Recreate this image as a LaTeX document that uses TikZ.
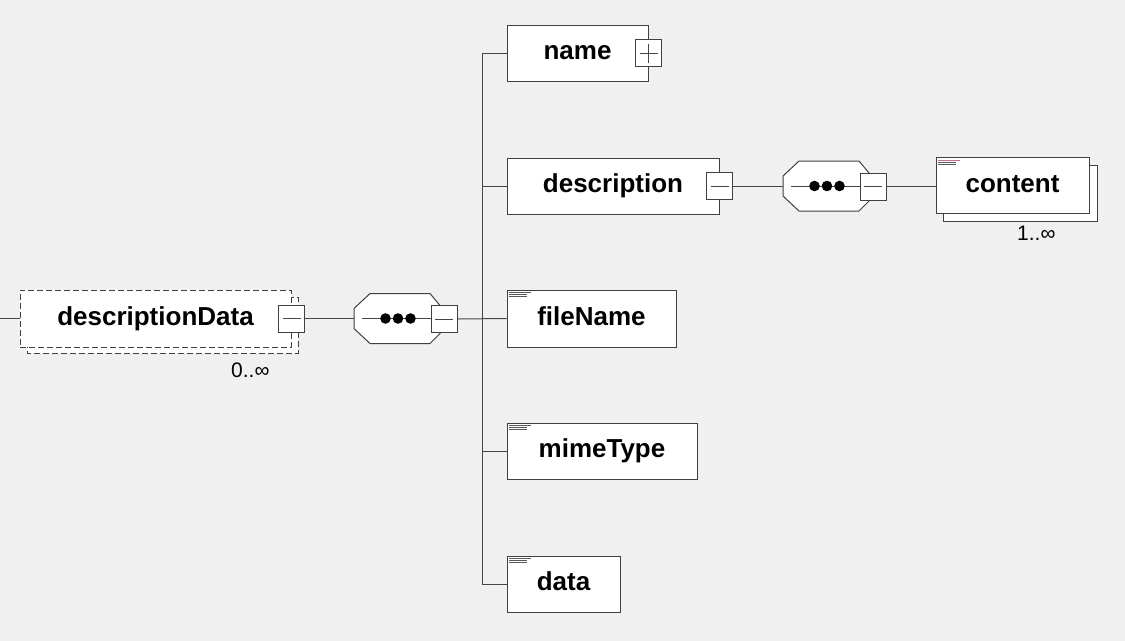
\documentclass[tikz,border=0pt]{standalone}
\usepackage{fontspec}
\setmainfont{Liberation Sans}
\newcommand\myelemfont{\bfseries\fontsize{26}{30}\selectfont}
\newcommand\mycardfont{\fontsize{21}{24}\selectfont}
\definecolor{bgc}{RGB}{240,240,240}
\definecolor{edge}{RGB}{64,64,64}
\definecolor{lnc}{RGB}{70,70,70}
\definecolor{iconc}{RGB}{90,90,90}
\definecolor{iconred}{RGB}{200,110,130}
\tikzset{
  ln/.style={draw=lnc, line width=1pt},
  elem/.style={draw=edge, fill=white, line width=1pt, font=\myelemfont, inner sep=0pt,
    text height=18.5pt, text depth=5.5pt},
  backbox/.style={draw=edge, fill=white, line width=1pt},
  dashbox/.style={dash pattern=on 6pt off 3pt},
  togbox/.style={draw=edge, fill=white, line width=1pt, minimum width=26pt, minimum height=27pt, inner sep=0pt},
  minusbox/.style={togbox, path picture={
    \draw[lnc, line width=0.9pt] ([xshift=4pt]path picture bounding box.west) -- ([xshift=-4pt]path picture bounding box.east);}},
  plusbox/.style={togbox, path picture={
    \draw[lnc, line width=0.9pt] ([xshift=4pt]path picture bounding box.west) -- ([xshift=-4pt]path picture bounding box.east);
    \draw[lnc, line width=0.9pt] ([yshift=-4pt]path picture bounding box.north) -- ([yshift=4pt]path picture bounding box.south);}},
  card/.style={font=\mycardfont, inner sep=0pt, anchor=base west},
  seqcomp/.pic={
    \draw[draw=edge, fill=white, line width=1pt]
      (16,-25) -- (76,-25) -- (86,-13) -- (86,15) -- (76,25) -- (16,25) -- (0,10) -- (0,-10) -- cycle;
    \coordinate (-in) at (0,0);
    \draw[ln] (8,0) -- (78,0);
    \fill[black] (31.5,0) circle (5.3pt) (44,0) circle (5.3pt) (56.5,0) circle (5.3pt);
    \node[minusbox] (-m) at (90,0.5) {};
  }
}
\begin{document}
\begin{tikzpicture}[x=1pt,y=-1pt]
\fill[bgc] (0,0) rectangle (1125,641);
\useasboundingbox (0,0) rectangle (1125,641);

% root element
\coordinate (start) at (0,318.5);
\draw[backbox, dashbox] (27,297) rectangle (298,353);
\node[elem, dashbox, minimum width=271pt, minimum height=57pt] (dd) at (155.5,318.5) {descriptionData};
\node[minusbox] (ddm) at (dd.east) {};
\node[card] (card1) at (231,377) {0..∞};

% compositors
\pic (c1) at (354,318.5) {seqcomp};
\pic (c2) at (783,186) {seqcomp};

% children
\node[elem, minimum width=141pt, minimum height=56pt] (name) at (577.5,53) {name};
\node[plusbox] (namep) at (name.east) {};
\node[elem, minimum width=212pt, minimum height=56pt] (description) at (613,186) {description};
\node[minusbox] (descm) at (description.east) {};
\node[elem, minimum width=169pt, minimum height=57pt] (filename) at (591.5,318.5) {fileName};
\node[elem, minimum width=190pt, minimum height=56pt] (mimetype) at (602,451) {mimeType};
\node[elem, minimum width=113pt, minimum height=56pt] (data) at (563.5,584) {data};

% content
\draw[backbox] (943,165) rectangle (1097,221);
\node[elem, minimum width=153pt, minimum height=56pt] (content) at (1012.5,185.5) {content};
\node[card] (card2) at (1017,240) {1..∞};

% element icons
\foreach \e in {filename,mimetype,data,content}{
  \draw[iconc, line width=0.8pt] ([shift={(2,3)}]\e.north west) -- ++(22,0);
  \draw[iconc, line width=0.8pt] ([shift={(2,5)}]\e.north west) -- ++(18,0);
  \draw[iconc, line width=0.8pt] ([shift={(2,7)}]\e.north west) -- ++(18,0);
}
\draw[iconred, line width=0.8pt] ([shift={(2,3)}]content.north west) -- ++(22,0);

% connectors
\coordinate (tr) at (482,318.5);
\draw[ln] (start) -- (dd.west);
\draw[ln] (ddm.east) -- (c1-in);
\draw[ln] (c1-m.east) -- (filename.west);
\draw[ln] (name.west) -- (name.west -| tr) -- (data.west -| tr) -- (data.west);
\draw[ln] (description.west) -- (description.west -| tr);
\draw[ln] (mimetype.west) -- (mimetype.west -| tr);
\draw[ln] (descm.east) -- (c2-in);
\draw[ln] (c2-m.east) -- (c2-m.east -| content.west);
\end{tikzpicture}
\end{document}
